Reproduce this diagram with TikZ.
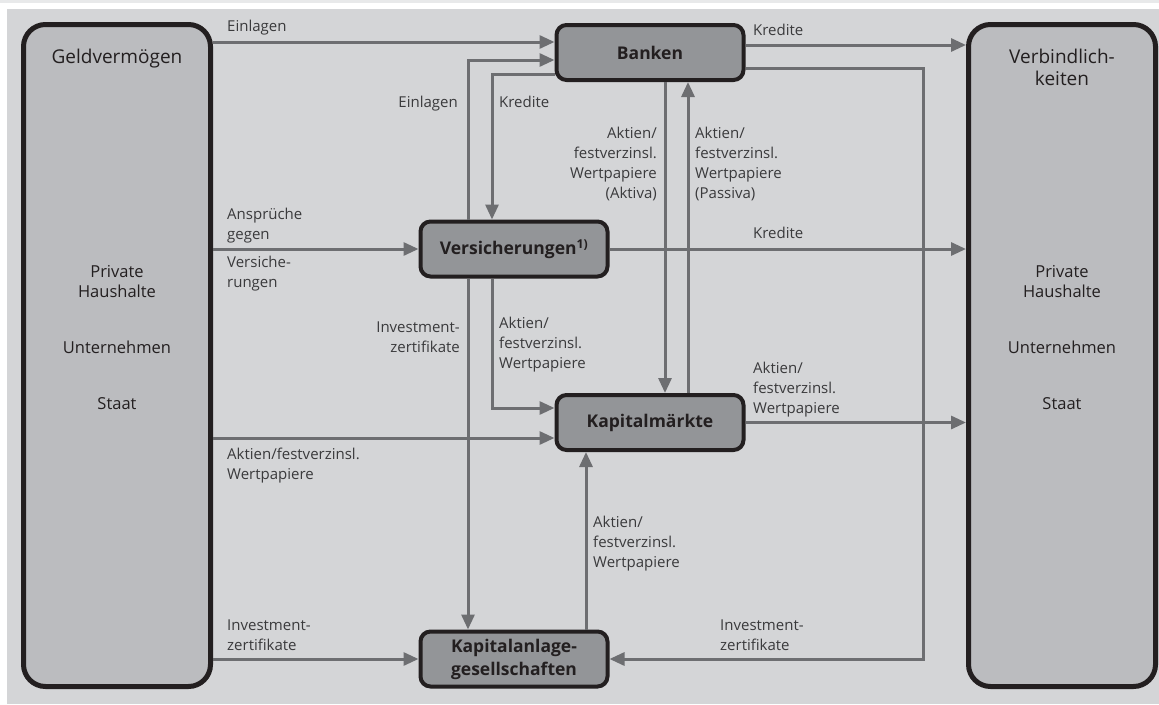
\documentclass[tikz,border=0pt]{standalone}
\usepackage{fontspec}
\setmainfont{Open Sans}
\usetikzlibrary{arrows.meta,calc}
\definecolor{bgGrey}{HTML}{D4D5D7}
\definecolor{topBand}{HTML}{E8E9EA}
\definecolor{outerFill}{HTML}{BBBCBF}
\definecolor{innerFill}{HTML}{939598}
\definecolor{flowGrey}{HTML}{6D6E71}
\definecolor{boxBorder}{HTML}{231F20}
\definecolor{lblText}{HTML}{3A3A3C}
\begin{document}
\begin{tikzpicture}[x=1pt,y=-1pt,
    sector/.style={draw=boxBorder,line width=5pt,fill=outerFill,rounded corners=22pt,
      minimum width=187pt,minimum height=662pt},
    inst/.style={draw=boxBorder,line width=4pt,fill=innerFill,rounded corners=10pt,
      minimum width=187pt,minimum height=55pt,align=center,text=boxBorder,
      font=\fontsize{17.5}{23}\selectfont\bfseries},
    sectxt/.style={align=center,text=boxBorder,inner sep=0pt,anchor=base,
      font=\fontsize{16.5}{20}\selectfont},
    headtxt/.style={align=center,text=boxBorder,inner sep=0pt,anchor=base,
      font=\fontsize{19}{22}\selectfont},
    flow/.style={draw=flowGrey,line width=3pt,-{Triangle[length=15pt,width=13pt]}},
    lbl/.style={text=lblText,inner sep=0pt,font=\fontsize{15}{20}\selectfont},
    lblL/.style={lbl,align=left,anchor=base west},
    lblR/.style={lbl,align=right,anchor=base east}]
  \useasboundingbox (0,0) rectangle (1159,704);
  \fill[white] (0,0) rectangle (1159,704);
  \fill[topBand] (0,0) rectangle (1159,3);
  \fill[bgGrey] (7,9) rectangle (1159,704);

  % sectors (text placed by the baseline of the last line)
  \node[sector] (geld) at (117,355.5) {};
  \node[sector] (verb) at (1062,355.5) {};
  \node[headtxt] (geldHead) at (117,63) {Geldvermögen};
  \node[headtxt] (verbHead) at (1062,85) {Verbindlich-\\keiten};
  \node[sectxt] (geldPH) at (117,297) {Private\\Haushalte};
  \node[sectxt] (geldU) at (117,353) {Unternehmen};
  \node[sectxt] (geldS) at (117,409) {Staat};
  \node[sectxt] (verbPH) at (1062,297) {Private\\Haushalte};
  \node[sectxt] (verbU) at (1062,353) {Unternehmen};
  \node[sectxt] (verbS) at (1062,409) {Staat};

  % institutions
  \node[inst] (banken) at (650,52.5) {Banken};
  \node[inst] (vers) at (514,249) {Versicherungen\textsuperscript{1)}};
  \node[inst] (km) at (650,422.5) {Kapitalmärkte};
  \node[inst] (kag) at (514,659) {Kapitalanlage-\\gesellschaften};

  % flows
  \draw[flow] (geld.east |- 0,42) -- ($(banken.west)+(0,-10.5)$);
  \draw[flow] ($(vers.north)+(-46,0)$) |- ($(banken.west)+(0,7.5)$);
  \draw[flow] ($(banken.west)+(0,21.5)$) -| ($(vers.north)+(-22,0)$);
  \draw[flow] ($(banken.east)+(0,-7.5)$) -- (verb.west |- 0,45);
  \draw[flow] ($(banken.east)+(0,15.5)$) -- ++(178,0) |- (kag.east);
  \draw[flow] ($(banken.south)+(15,0)$) -- ($(km.north)+(15,0)$);
  \draw[flow] ($(km.north)+(38,0)$) -- ($(banken.south)+(38,0)$);
  \draw[flow] (geld.east |- vers.west) -- (vers.west);
  \draw[flow] (vers.east) -- (verb.west |- vers.east);
  \draw[flow] ($(vers.south)+(-46,0)$) -- ($(kag.north)+(-46,0)$);
  \draw[flow] ($(vers.south)+(-22,0)$) |- ($(km.west)+(0,-14.5)$);
  \draw[flow] (geld.east |- 0,438) -- ($(km.west)+(0,15.5)$);
  \draw[flow] (km.east) -- (verb.west |- km.east);
  \draw[flow] ($(kag.north)+(72,0)$) -- ($(km.south)+(-64,0)$);
  \draw[flow] (geld.east |- kag.west) -- (kag.west);

  % labels
  \node[lblL] (lEinl) at (227,31) {Einlagen};
  \node[lblL] (lKred) at (753,35) {Kredite};
  \node[lblR] (lEinlV) at (458,107) {Einlagen};
  \node[lblL] (lKredV) at (499,107) {Kredite};
  \node[lblR] (lAktiva) at (657,198) {Aktien/\\festverzinsl.\\Wertpapiere\\(Aktiva)};
  \node[lblL] (lPassiva) at (695,198) {Aktien/\\festverzinsl.\\Wertpapiere\\(Passiva)};
  \node[lblL] (lAnspr) at (227,239) {Ansprüche\\gegen};
  \node[lblL] (lVersi) at (227,287) {Versiche-\\rungen};
  \node[lblL] (lKredVe) at (753,238) {Kredite};
  \node[lblR] (lInvV) at (460,352) {Investment-\\zertifikate};
  \node[lblL] (lAktV) at (499,368) {Aktien/\\festverzinsl.\\Wertpapiere};
  \node[lblL] (lAktKM) at (753,413) {Aktien/\\festverzinsl.\\Wertpapiere};
  \node[lblL] (lAktG) at (227,479) {Aktien/festverzinsl.\\Wertpapiere};
  \node[lblL] (lAktKAG) at (593,567) {Aktien/\\festverzinsl.\\Wertpapiere};
  \node[lblL] (lInvG) at (227,650) {Investment-\\zertifikate};
  \node[lblL] (lInvB) at (720,650) {Investment-\\zertifikate};
\end{tikzpicture}
\end{document}
